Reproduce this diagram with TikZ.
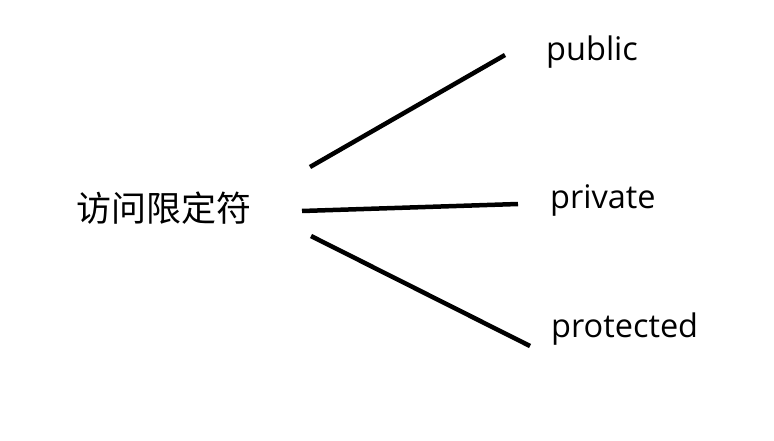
\documentclass[tikz,border=0pt]{standalone}
\usepackage{fontspec}
\setmainfont{Open Sans}
\newfontfamily\cjk{Noto Sans CJK SC}
\begin{document}
\begin{tikzpicture}[x=1pt,y=-1pt]
        \tikzset{
          branch/.style={line width=4.5pt, black},
          leaf/.style={anchor=west, inner sep=0pt, font=\fontsize{32.5}{38}\selectfont}
        }
        \useasboundingbox (0,0) rectangle (774,441);
        % Root
        \node[inner sep=0pt, font=\cjk\fontsize{35}{40}\selectfont] (access) at (164,208) {访问限定符};
        % Leaves
        \node[leaf] (public) at (546,52) {public};
        \node[leaf] (private) at (550,200) {private};
        \node[leaf] (protected) at (551,329) {protected};
        % Branch ends
        \coordinate (p1) at (310,167);
        \coordinate (q1) at (505,55);
        \coordinate (p2) at (302,211);
        \coordinate (q2) at (518,204);
        \coordinate (p3) at (311,236);
        \coordinate (q3) at (530,346);
        \draw[branch] (p1) -- (q1);
        \draw[branch] (p2) -- (q2);
        \draw[branch] (p3) -- (q3);
      \end{tikzpicture}
\end{document}
